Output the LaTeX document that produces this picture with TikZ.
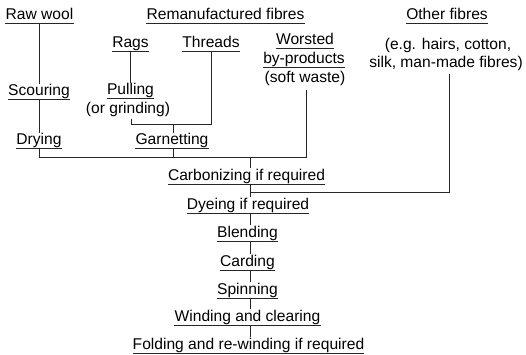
\documentclass[tikz,border=0pt]{standalone}
\usepackage{fontspec}
\setmainfont{Liberation Sans}
\usetikzlibrary{calc}
\begin{document}
\begin{tikzpicture}[x=1pt,y=-1pt,
  txt/.style={anchor=base,inner sep=0pt,font=\fontsize{15.6}{18}\selectfont},
  ln/.style={draw=black!85,line width=1pt}]
\path[use as bounding box] (0,0) rectangle (526,355);
% nodes
\node[txt] (raw)   at (39.5,20)  {Raw wool};
\node[txt] (reman) at (225.5,20) {Remanufactured fibres};
\node[txt] (other) at (447,20)   {Other fibres};
\node[txt] (rags)  at (130.5,48) {Rags};
\node[txt] (thr)   at (211,48)   {Threads};
\node[txt] (wor1)  at (305,45)   {Worsted};
\node[txt] (wor2)  at (304,64)   {by-products};
\node[txt] (wor3)  at (305,83)   {(soft waste)};
\node[txt] (eg1)   at (448,50)   {(e.g. hairs, cotton,};
\node[txt] (eg2)   at (446,68)   {silk, man-made fibres)};
\node[txt] (scour) at (39,96)    {Scouring};
\node[txt] (pull)  at (130.5,95) {Pulling};
\node[txt] (pull2) at (128,114)  {(or grinding)};
\node[txt] (dry)   at (39,145)   {Drying};
\node[txt] (garn)  at (172,145)  {Garnetting};
\node[txt] (carb)  at (246.5,180) {Carbonizing if required};
\node[txt] (dye)   at (248,209)  {Dyeing if required};
\node[txt] (blend) at (247.5,237) {Blending};
\node[txt] (card)  at (247.5,266) {Carding};
\node[txt] (spin)  at (247.5,294) {Spinning};
\node[txt] (wind)  at (247.5,321) {Winding and clearing};
\node[txt] (fold)  at (248.5,349) {Folding and re-winding if required};
% underlines
\foreach \n in {raw,reman,other,rags,thr,wor1,wor2,scour,pull,dry,garn,carb,dye,blend,card,spin,wind,fold}
  \draw[ln] ($(\n.base west)+(0,4)$) -- ($(\n.base east)+(0,4)$);
% junction coordinates
\coordinate (j1) at (250,158);
\coordinate (j2) at (173,125);
\coordinate (j3) at (250,192);
% connectors
\draw[ln] ($(raw.base)+(0,4)$) -- (raw.base |- scour.north);
\draw[ln] ($(scour.base)+(0,4)$) -- (scour.base |- dry.north);
\draw[ln] ($(rags.base)+(0,4)$) -- (rags.base |- pull.north);
\draw[ln] ($(dry.base)+(0,4)$) |- (j1);
\draw[ln] (j1) -| ($(wor3.base)+(1.5,7)$);
\draw[ln] ($(garn.base)+(1,4)$) -- ($(garn.base)+(1,13)$);
\draw[ln] ($(pull2.base)+(3,5)$) |- (j2);
\draw[ln] (j2) -| ($(thr.base)+(0,4)$);
\draw[ln] (j2) -- (j2 |- garn.north);
\draw[ln] (j1) -- (j1 |- carb.north);
\draw[ln] ($(eg2.base)+(3,6)$) |- (j3);
\draw[ln] ($(carb.base -| j1)+(0,4)$) -- (j1 |- dye.north);
\draw[ln] ($(dye.base -| j1)+(0,4)$) -- (j1 |- blend.north);
\draw[ln] ($(blend.base -| j1)+(0,4)$) -- (j1 |- card.north);
\draw[ln] ($(card.base -| j1)+(0,4)$) -- (j1 |- spin.north);
\draw[ln] ($(spin.base -| j1)+(0,4)$) -- (j1 |- wind.north);
\draw[ln] ($(wind.base -| j1)+(0,4)$) -- (j1 |- fold.north);
\end{tikzpicture}
\end{document}
